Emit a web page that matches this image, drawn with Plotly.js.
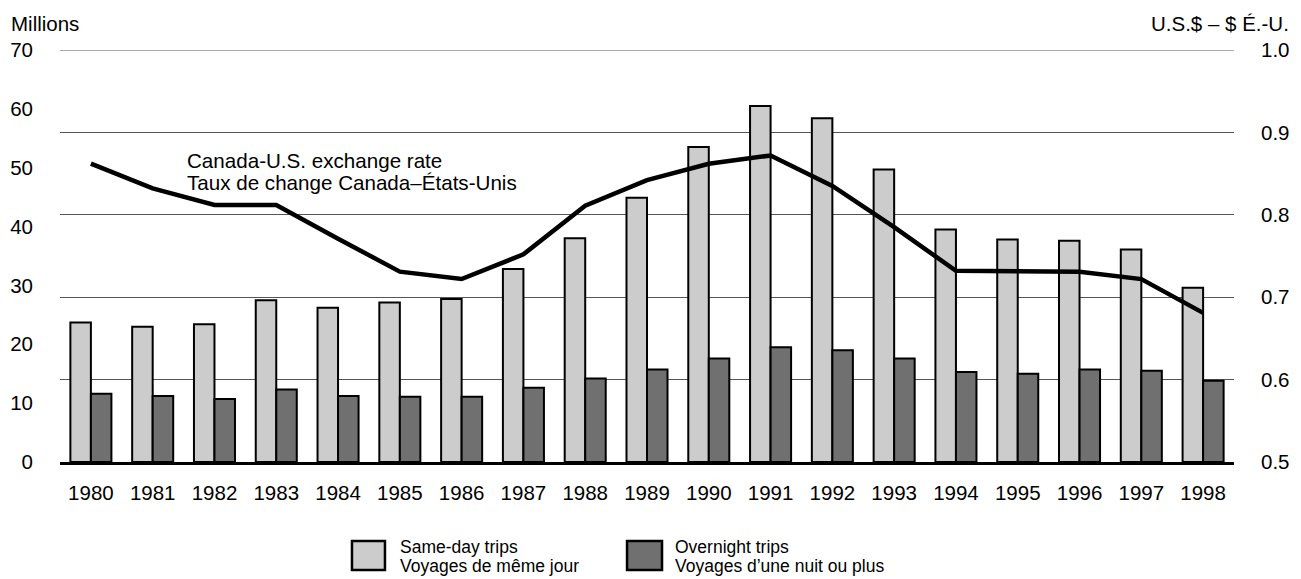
<!DOCTYPE html>
<html>
<head>
<meta charset="utf-8">
<script src="https://cdn.plot.ly/plotly-3.0.1.min.js"></script>
<style>html,body{margin:0;padding:0;background:#fff;}#chart{width:1301px;height:579px;}</style>
</head>
<body>
<div id="chart"></div>
<script>
const years = ['1980','1981','1982','1983','1984','1985','1986','1987','1988','1989','1990','1991','1992','1993','1994','1995','1996','1997','1998'];
const sameDay = [23.7, 23.0, 23.4, 27.5, 26.2, 27.1, 27.7, 32.8, 38.0, 44.9, 53.5, 60.5, 58.4, 49.7, 39.5, 37.8, 37.6, 36.1, 29.6];
const overnight = [11.6, 11.2, 10.7, 12.3, 11.2, 11.1, 11.1, 12.6, 14.2, 15.7, 17.6, 19.5, 19.0, 17.6, 15.3, 15.0, 15.7, 15.5, 13.8];
const exchangeRate = [0.862, 0.832, 0.812, 0.812, 0.771, 0.731, 0.722, 0.752, 0.811, 0.842, 0.862, 0.872, 0.835, 0.785, 0.732, 0.731, 0.731, 0.722, 0.681];
const leftTicks = [0,10,20,30,40,50,60,70];
const rightTicks = [0.5,0.6,0.7,0.8,0.9,1.0];

const FONT = '"Liberation Sans", Arial, Helvetica, sans-serif';

const traces = [
  {type:'bar', x:years, y:sameDay, name:'Same-day trips', yaxis:'y',
   marker:{color:'#cccccc', line:{color:'#000', width:2}}, hoverinfo:'skip'},
  {type:'bar', x:years, y:overnight, name:'Overnight trips', yaxis:'y',
   marker:{color:'#707070', line:{color:'#000', width:2}}, hoverinfo:'skip'},
  {type:'scatter', mode:'lines', x:years, y:exchangeRate, yaxis:'y2', name:'Exchange rate',
   line:{color:'#000', width:4.5}, hoverinfo:'skip'}
];

const layout = {
  width:1301, height:579,
  margin:{l:60, r:67, t:50, b:117, pad:0},
  paper_bgcolor:'#fff', plot_bgcolor:'rgba(0,0,0,0)',
  font:{family:FONT, size:20, color:'#000'},
  showlegend:false,
  barmode:'group', bargap:0.336, bargroupgap:0,
  xaxis:{type:'category', showline:true, linecolor:'#000', linewidth:3, ticks:'',
         showgrid:false, zeroline:false, tickfont:{size:20.5}, ticklabelstandoff:10, fixedrange:true},
  yaxis:{range:[0,70], tickvals:leftTicks, showgrid:false, zeroline:false, showline:false,
         ticks:'', tickfont:{size:20.5}, ticklabelstandoff:26, fixedrange:true},
  yaxis2:{range:[0.5,1.0], tickvals:rightTicks, tickformat:'.1f', overlaying:'y', side:'right',
          showgrid:true, gridcolor:'#555', gridwidth:1, zeroline:false, showline:false,
          ticks:'', tickfont:{size:20.5}, ticklabelstandoff:26, fixedrange:true},
  shapes:[
    {type:'line', xref:'paper', yref:'y2', x0:0, x1:1, y0:1.0, y1:1.0, line:{color:'#555', width:1}, layer:'below'},
    {type:'rect', xref:'paper', yref:'paper', x0:0.2487, x1:0.2768, y0:-0.2621, y1:-0.1917,
     fillcolor:'#cccccc', line:{color:'#000', width:2.5}},
    {type:'rect', xref:'paper', yref:'paper', x0:0.483, x1:0.5128, y0:-0.2621, y1:-0.1917,
     fillcolor:'#707070', line:{color:'#000', width:2.5}}
  ],
  annotations:[
    {text:'Millions', xref:'paper', yref:'paper', x:-0.0434, y:1.0655, xanchor:'left', yanchor:'middle', showarrow:false, font:{size:20.5}},
    {text:'U.S.$ – $ É.-U.', xref:'paper', yref:'paper', x:1.0485, y:1.0655, xanchor:'right', yanchor:'middle', showarrow:false, font:{size:20.5}},
    {text:'Canada-U.S. exchange rate', xref:'paper', yref:'paper', x:0.1065, y:0.733, xanchor:'left', yanchor:'middle', showarrow:false, font:{size:20.6}},
    {text:'Taux de change Canada–États-Unis', xref:'paper', yref:'paper', x:0.1065, y:0.678, xanchor:'left', yanchor:'middle', showarrow:false, font:{size:20.6}},
    {text:'Same-day trips', xref:'paper', yref:'paper', x:0.288, y:-0.2063, xanchor:'left', yanchor:'middle', showarrow:false, font:{size:17.5}},
    {text:'Voyages de même jour', xref:'paper', yref:'paper', x:0.288, y:-0.2524, xanchor:'left', yanchor:'middle', showarrow:false, font:{size:17.5}},
    {text:'Overnight trips', xref:'paper', yref:'paper', x:0.5221, y:-0.2063, xanchor:'left', yanchor:'middle', showarrow:false, font:{size:17.5}},
    {text:'Voyages d’une nuit ou plus', xref:'paper', yref:'paper', x:0.5221, y:-0.2524, xanchor:'left', yanchor:'middle', showarrow:false, font:{size:17.5}}
  ]
};

Plotly.newPlot('chart', traces, layout, {displayModeBar:false, staticPlot:true});
</script>
</body>
</html>
